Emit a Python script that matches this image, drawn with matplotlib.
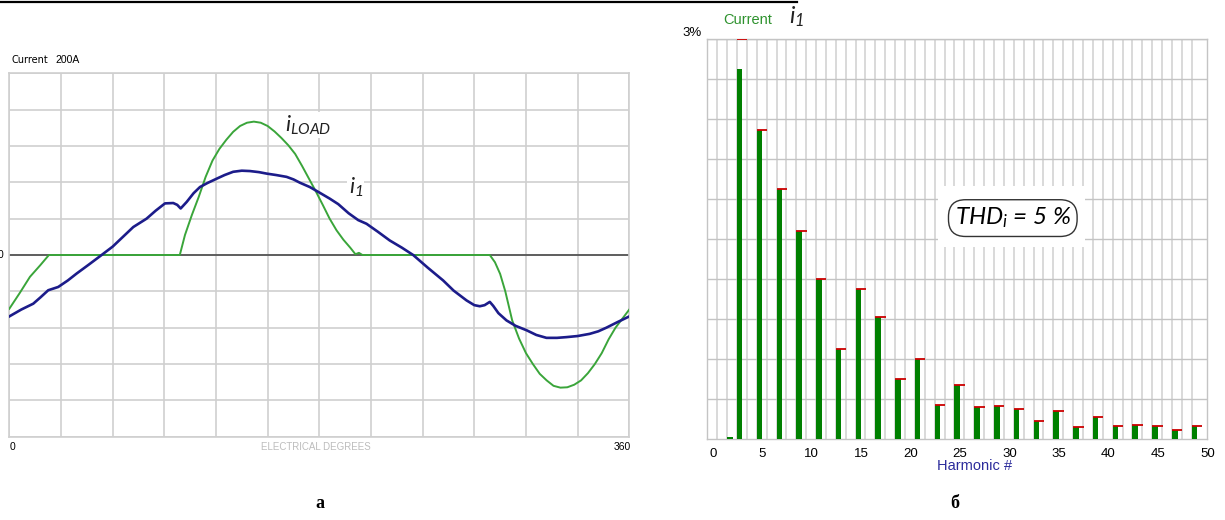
import numpy as np
import matplotlib
matplotlib.use('Agg')
import matplotlib.pyplot as plt
from matplotlib.lines import Line2D
from matplotlib.patches import Rectangle

plt.rcParams['font.family'] = ['Liberation Sans', 'DejaVu Sans']
plt.rcParams['mathtext.fontset'] = 'custom'
plt.rcParams['mathtext.it'] = 'Lato:italic'
plt.rcParams['mathtext.rm'] = 'Lato:italic'

# ---- panel a: waveforms (grid units, 1 unit = 40 A) ----
load_deg = [0, 6, 12, 18, 23, 60, 99, 102, 106, 110, 114, 118, 122, 126, 130, 134, 138, 142,
            146, 150, 154, 158, 162, 166, 170, 174, 178, 182, 186, 190, 194, 198, 201, 203,
            205, 240, 279, 282, 285, 288, 292, 296, 300, 304, 308, 312, 316, 320, 324, 328,
            332, 336, 340, 344, 348, 352, 356, 360]
load_val = [-1.48, -1.05, -0.6, -0.28, 0, 0, 0, 0.55, 1.1, 1.6, 2.15, 2.6, 2.92, 3.17, 3.39,
            3.55, 3.64, 3.67, 3.64, 3.55, 3.4, 3.22, 3.02, 2.78, 2.45, 2.1, 1.75, 1.38, 1.0,
            0.68, 0.42, 0.2, 0.02, 0.06, 0, 0, 0, -0.2, -0.52, -1.0, -1.8, -2.3, -2.7, -3.0,
            -3.27, -3.45, -3.6, -3.65, -3.64, -3.57, -3.45, -3.25, -3.0, -2.7, -2.32, -2.0,
            -1.75, -1.5]

i1_deg = [0, 7, 13.9, 18, 22.6, 28.4, 34, 39.1, 46, 53.6, 60, 66, 72, 79.7, 85, 90.4, 95.2,
          97.5, 99.5, 103, 107, 110.7, 115, 120.4, 125, 130, 135, 139.7, 145, 149.4, 155, 161,
          165, 168.7, 174.5, 180, 186.1, 191, 197, 202.6, 207.4, 214, 220.9, 228, 234.5, 243,
          251.9, 258, 265.5, 270, 273.2, 276, 279, 281, 284, 288.7, 294, 300.3, 306, 311.9,
          318, 323.5, 330, 337, 342, 346.7, 353, 360]
i1_val = [-1.69, -1.5, -1.34, -1.17, -0.97, -0.88, -0.7, -0.51, -0.27, 0, 0.23, 0.5, 0.77, 1.0,
          1.22, 1.42, 1.43, 1.38, 1.28, 1.46, 1.7, 1.87, 1.98, 2.1, 2.2, 2.29, 2.32, 2.31, 2.28,
          2.24, 2.2, 2.15, 2.08, 1.99, 1.87, 1.72, 1.55, 1.4, 1.15, 0.96, 0.86, 0.64, 0.4, 0.2,
          0, -0.35, -0.7, -0.98, -1.25, -1.38, -1.41, -1.38, -1.29, -1.4, -1.6, -1.8, -1.95,
          -2.07, -2.2, -2.28, -2.28, -2.26, -2.23, -2.17, -2.1, -2.0, -1.85, -1.69]

# ---- panel б: harmonic spectrum (%) ----
harm = [2, 3, 5, 7, 9, 11, 13, 15, 17, 19, 21, 23, 25, 27, 29, 31, 33, 35, 37, 39, 41, 43, 45, 47, 49]
harm_pct = [0.02, 2.78, 2.32, 1.88, 1.56, 1.2, 0.68, 1.125, 0.92, 0.45, 0.6, 0.26, 0.405, 0.24,
            0.25, 0.23, 0.14, 0.21, 0.09, 0.165, 0.0975, 0.11, 0.10, 0.0675, 0.0975]
harm_peak = [np.nan, 3.0, 2.32, 1.88, 1.56, 1.2, 0.68, 1.125, 0.92, 0.45, 0.6, 0.26, 0.405, 0.24,
             0.25, 0.23, 0.14, 0.21, 0.09, 0.165, 0.0975, 0.11, 0.10, 0.0675, 0.0975]
harm_ticks = ['0', '5', '10', '15', '20', '25', '30', '35', '40', '45', '50']

fig = plt.figure(figsize=(12.25, 5.2), dpi=100)
W, H = 1225.0, 520.0

# top rule
fig.add_artist(Line2D([0, 797 / W], [1 - 1.5 / H] * 2, color='black', lw=1.6))

# ================= panel a =================
ax1 = fig.add_axes([9.3 / W, (H - 436.7) / H, 620 / W, 363.4 / H])
ax1.set_xlim(0, 360)
ax1.set_ylim(-5, 5)
ax1.set_xticks(np.arange(0, 361, 30))
ax1.set_yticks(np.arange(-5, 6, 1))
ax1.grid(True, color='#cfcfcf', lw=1.2)
ax1.tick_params(length=0, labelbottom=False, labelleft=False)
for s in ax1.spines.values():
    s.set_color('#cfcfcf')
    s.set_linewidth(1.2)
ax1.axhline(0, color='#555555', lw=1.3, zorder=2)
ax1.plot(load_deg, load_val, color='#3aa53a', lw=1.4, zorder=3)
ax1.plot(i1_deg, i1_val, color='#1c1c8a', lw=1.9, zorder=4)

ax1.text(160, 3.57, r'$i_{LOAD}$', fontsize=16, color='#222222', ha='left', va='center',
         bbox=dict(facecolor='white', edgecolor='none', pad=1), zorder=5)
ax1.text(197, 1.86, r'$i_1$', fontsize=16, color='#222222', ha='left', va='center',
         bbox=dict(facecolor='white', edgecolor='none', pad=1), zorder=5)

fig.text(12 / W, 1 - 60 / H, 'Current', fontsize=7, va='center', ha='left',
         family=['DejaVu Sans Condensed', 'DejaVu Sans'])
fig.text(55 / W, 1 - 60 / H, '200A', fontsize=7.5, va='center', ha='left')
fig.text(1 / W, 1 - 255 / H, '0', fontsize=7.5, va='center', ha='center')
fig.text(12 / W, 1 - 447 / H, '0', fontsize=7.5, va='center', ha='center')
fig.text(622 / W, 1 - 447 / H, '360', fontsize=7.5, va='center', ha='center')
fig.text(316 / W, 1 - 447 / H, 'ELECTRICAL DEGREES', fontsize=7, color='#bdbdbd',
         va='center', ha='center')
fig.text(320 / W, 1 - 503 / H, 'а', fontsize=13, fontweight='bold', va='center', ha='center',
         family='Liberation Serif')

# ================= panel б =================
ax2 = fig.add_axes([707.3 / W, (H - 439.3) / H, 500 / W, 400 / H])
ax2.set_xlim(0, 50)
ax2.set_ylim(0, 3)
for k in np.arange(1, 50):
    ax2.axvline(k, color='#d0d0d0', lw=1.1, zorder=1)
for v in np.arange(0.3, 3.0, 0.3):
    ax2.axhline(v, color='#c4c4c4', lw=1.0, zorder=1)
for s in ax2.spines.values():
    s.set_color('#c4c4c4')
    s.set_linewidth(1.0)

# white patch pasted under the THD label
ax2.add_patch(Rectangle((0.461, 0.481), 0.294, 0.152, transform=ax2.transAxes,
                        facecolor='white', edgecolor='none', zorder=2))

ax2.bar(harm, harm_pct, width=0.56, align='edge', color='#008000', zorder=3)
ax2.hlines(harm_peak, np.array(harm), np.array(harm) + 1.05, color='#cc0000', lw=1.3, zorder=4)

ax2.set_xticks(np.arange(0, 51, 5) + 0.57, harm_ticks)
ax2.set_yticks([])
ax2.tick_params(axis='x', length=0, labelsize=9.5, pad=6)

ax2.text(0.611, 0.553, r'$THD_i$ = 5 %', transform=ax2.transAxes, fontsize=17.5,
         style='italic', family='Lato', ha='center', va='center', zorder=6,
         bbox=dict(boxstyle='round,pad=0.25,rounding_size=0.7', facecolor='white',
                   edgecolor='#333333', lw=1.0))

fig.text(692 / W, 1 - 33 / H, '3%', fontsize=9.5, va='center', ha='center')
fig.text(748 / W, 1 - 20 / H, 'Current', fontsize=10.5, color='#2e922e', va='center', ha='center')
fig.text(789 / W, 1 - 17 / H, r'$i_1$', fontsize=17, color='#222222', va='center', ha='left')
fig.text(975 / W, 1 - 466 / H, 'Harmonic #', fontsize=10.5, color='#2b2b9b', va='center', ha='center')
fig.text(955 / W, 1 - 503 / H, 'б', fontsize=13, fontweight='bold', va='center', ha='center',
         family='Liberation Serif')

fig.savefig('out.png', dpi=100, facecolor='white')
